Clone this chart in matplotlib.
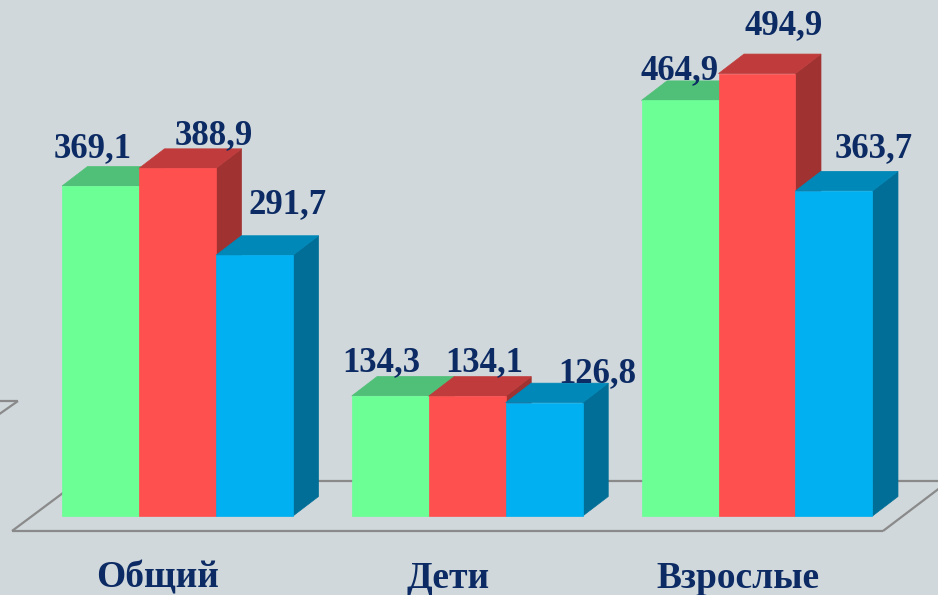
import matplotlib
matplotlib.use("Agg")
import matplotlib.pyplot as plt
from matplotlib.patches import Polygon

# ---- data ----
categories = ["Общий", "Дети", "Взрослые"]
series_green = [369.1, 134.3, 464.9]
series_red = [388.9, 134.1, 494.9]
series_blue = [291.7, 126.8, 363.7]
value_labels_green = ["369,1", "134,3", "464,9"]
value_labels_red = ["388,9", "134,1", "494,9"]
value_labels_blue = ["291,7", "126,8", "363,7"]

# ---- style / layout ----
W, H, DPI = 938, 595, 100
BG = "#D0D8DB"
TXT = "#0C2A63"
front_cols = ["#6BFF96", "#FF5050", "#00B0F0"]
top_cols = ["#50C078", "#C03C3C", "#0088B8"]
side_cols = ["#3E9A5E", "#A03232", "#006E96"]
bar_w = 0.2657            # in category units
depth_px = (25.5, 19.5)   # oblique depth in pixels
# label offsets (pixels) from bar front-top centre, per series, per category
label_dx = [[-8, -9, 0], [36, 17, 27], [33, 53, 40]]
label_dy = [[29, 25, 21], [24, 25, 39], [42, 21, 34]]

fig = plt.figure(figsize=(W / DPI, H / DPI), dpi=DPI, facecolor=BG)
ax = fig.add_axes([0, 0, 1, 1])
ax.set_facecolor(BG)
ax.axis("off")
# axis scales: group spacing 289.75 px, 0.894 px per unit, zero at image y=516
px_per_cat = 289.75
px_per_val = 0.894
x0_px, y0_px = 177.5, 516
ax.set_xlim(-x0_px / px_per_cat, (W - x0_px) / px_per_cat)
ax.set_ylim(-(H - y0_px) / px_per_val, y0_px / px_per_val)

ddx = depth_px[0] / px_per_cat
ddy = depth_px[1] / px_per_val

# floor (pixel coordinates of the image)
def pix(x, y):
    return x / W, (H - y) / H

floor_lines = [
    [(12, 531), (883, 531)],
    [(12, 531), (79, 481)],
    [(79, 481), (945, 481)],
    [(883, 531), (945, 484)],
    [(-2, 401), (18, 401)],
    [(18, 401), (-2, 415)],
]
for seg in floor_lines:
    xs, ys = zip(*[pix(*p) for p in seg])
    ax.plot(xs, ys, color="#8A8A8A", lw=1.6, transform=fig.transFigure,
            zorder=1, solid_capstyle="butt")

series = [series_green, series_red, series_blue]
vlabels = [value_labels_green, value_labels_red, value_labels_blue]
offsets = [-bar_w, 0.0, bar_w]

z = 3
for ci in range(len(categories)):
    for si in range(3):
        v = series[si][ci]
        xc = ci + offsets[si]
        xl, xr = xc - bar_w / 2, xc + bar_w / 2
        side = Polygon([(xr, 0), (xr + ddx, ddy), (xr + ddx, v + ddy), (xr, v)],
                       closed=True, facecolor=side_cols[si], edgecolor=side_cols[si],
                       lw=0.5, zorder=z)
        top = Polygon([(xl, v), (xl + ddx, v + ddy), (xr + ddx, v + ddy), (xr, v)],
                      closed=True, facecolor=top_cols[si], edgecolor=top_cols[si],
                      lw=0.5, zorder=z)
        ax.add_patch(side)
        ax.add_patch(top)
        ax.bar(xc, v, width=bar_w, color=front_cols[si], edgecolor=front_cols[si],
               lw=0.5, zorder=z + 0.5)
        z += 1

# value labels
for ci in range(len(categories)):
    for si in range(3):
        v = series[si][ci]
        xc = ci + offsets[si]
        ax.annotate(vlabels[si][ci], xy=(xc, v),
                    xytext=(label_dx[si][ci], label_dy[si][ci]),
                    textcoords="offset pixels", ha="center", va="baseline",
                    fontsize=25, fontweight="bold", family="Liberation Serif",
                    color=TXT, zorder=50)

# category labels
for ci, name in enumerate(categories):
    ax.annotate(name, xy=(ci, 0), xytext=(-19.5, -72), textcoords="offset pixels",
                ha="center", va="baseline", fontsize=27, fontweight="bold",
                family="Liberation Serif", color=TXT, zorder=50)

fig.savefig("out.png", dpi=DPI, facecolor=BG)
